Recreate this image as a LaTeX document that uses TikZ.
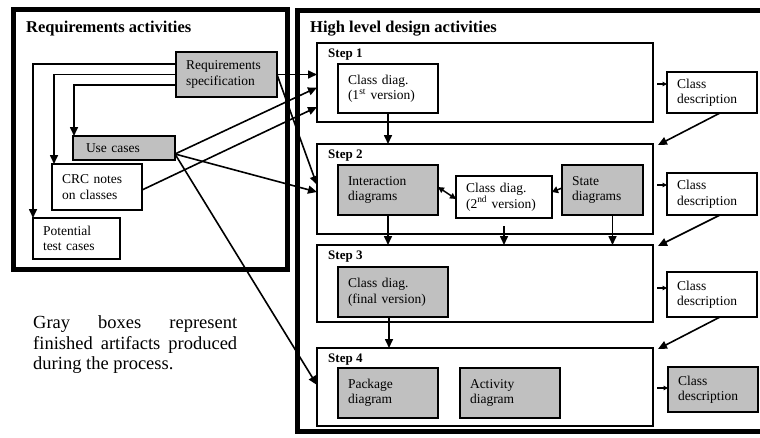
\documentclass[tikz,border=0pt]{standalone}
\usepackage{fontspec}
\setmainfont{Liberation Serif}
\usetikzlibrary{arrows.meta}
\definecolor{boxgray}{HTML}{C0C0C0}
\newcommand{\nohyph}{\hyphenpenalty=10000\relax\exhyphenpenalty=10000\relax}
\begin{document}
\begin{tikzpicture}[x=1pt,y=-1pt,
  bx/.style={draw, line width=1.5pt, rectangle, anchor=north west, inner xsep=10pt, inner ysep=0pt, outer sep=0pt, align=left, font=\fontsize{13.5}{15.5}\selectfont},
  gbx/.style={bx, fill=boxgray},
  stepbox/.style={draw, line width=1.6pt, rectangle, anchor=north west, outer sep=0pt, inner sep=0pt},
  steplbl/.style={anchor=base west, inner sep=0pt, font=\fontsize{13}{15}\selectfont\bfseries},
  ttl/.style={anchor=base west, inner sep=0pt, font=\fontsize{16.5}{18}\selectfont\bfseries},
  arr/.style={line width=1.6pt, -{Triangle[length=9pt,width=8pt]}},
  sarr/.style={line width=1.4pt, -{Triangle[length=4.5pt,width=4.5pt]}},
  frm/.style={draw, line width=5pt, rectangle, anchor=north west, outer sep=0pt, inner sep=0pt}
]
\useasboundingbox (0,0) rectangle (760,437);
\clip (0,0) rectangle (760,437);

% frames
\node[frm, minimum width=274pt, minimum height=260pt] (reqfrm) at (13,9.5) {};
\node[frm, minimum width=480pt, minimum height=421pt] (desfrm) at (297,10) {};
\node[ttl] (t1) at (26,32) {Requirements activities};
\node[ttl] (t2) at (310,32) {High level design activities};

% requirements boxes
\node[gbx, text width=81pt, minimum height=45pt] (reqspec) at (176,52) {Requirements\\specification};
\node[gbx, inner xsep=13pt, text width=76pt, minimum height=24pt] (usecases) at (73,136) {Use cases};
\node[bx, text width=70pt, minimum height=46pt] (crc) at (52,164) {CRC notes\\on classes};
\node[bx, text width=67pt, minimum height=41pt] (ptc) at (33,218) {Potential\\test cases};

% step boxes
\node[stepbox, minimum width=336pt, minimum height=79pt] (step1) at (317,43) {};
\node[stepbox, minimum width=336pt, minimum height=90pt] (step2) at (317,144) {};
\node[stepbox, minimum width=336pt, minimum height=77pt] (step3) at (317,245) {};
\node[stepbox, minimum width=336pt, minimum height=78pt] (step4) at (317,348) {};
\node[steplbl] (s1l) at (328,57) {Step 1};
\node[steplbl] (s2l) at (328,158) {Step 2};
\node[steplbl] (s3l) at (328,259) {Step 3};
\node[steplbl] (s4l) at (328,362) {Step 4};

% inner boxes
\node[bx, text width=80pt, minimum height=49pt] (cd1) at (338,64) {Class diag.\\(1\textsuperscript{st} version)};
\node[gbx, text width=80pt, minimum height=50pt] (inter) at (338,165) {Interaction\\diagrams};
\node[bx, text width=76pt, minimum height=42pt] (cd2) at (456,176) {Class diag.\\(2\textsuperscript{nd} version)};
\node[gbx, text width=61pt, minimum height=50pt] (state) at (562,165) {State\\diagrams};
\node[gbx, text width=90pt, minimum height=50pt] (cdf) at (338,267) {Class diag.\\(final version)};
\node[gbx, text width=80pt, minimum height=50pt] (pkg) at (338,368) {Package\\diagram};
\node[gbx, text width=80pt, minimum height=50pt] (act) at (460,368) {Activity\\diagram};

% class descriptions
\node[bx, text width=70pt, minimum height=41pt] (cdesc1) at (667,72) {Class\\description};
\node[bx, text width=70pt, minimum height=42pt] (cdesc2) at (667,173) {Class\\description};
\node[bx, text width=70pt, minimum height=45pt] (cdesc3) at (667,272) {Class\\description};
\node[gbx, text width=70pt, minimum height=45pt] (cdesc4) at (668,367) {Class\\description};

% note
\node[anchor=north west, inner sep=0pt, text width=204pt, align=justify, font=\fontsize{18.5}{20.5}\selectfont\nohyph] (note) at (33,315.5) {Gray boxes represent \mbox{finished} artifacts produced during the process.\par};

% requirements internal arrows
\draw[arr] ([yshift=10.5pt]reqspec.west) -| (ptc.north west);
\draw[arr] (reqspec.west) -| ([xshift=2pt]crc.north west);
\draw[arr] ([yshift=-10.5pt]reqspec.west) -| ([xshift=1pt]usecases.north west);

% requirements to design
\coordinate (uc) at ([yshift=6pt]usecases.south east);
\draw[arr] (reqspec.east) -- (reqspec.east -| step1.west);
\draw[arr] (reqspec.east) -- ([yshift=4pt]step2.west);
\draw[arr] (uc) -- ([yshift=-5pt]step1.west);
\draw[arr] ([yshift=-3pt]crc.east) -- ([yshift=-24.5pt]step1.west);
\draw[arr] (uc) -- ([yshift=-3pt]step2.west);
\draw[arr] (uc) -- ([yshift=2pt]step4.west);

% step flow
\draw[arr] (cd1.south) -- (cd1.south |- step2.north);
\draw[arr] (inter.south) -- (inter.south |- step3.north);
\draw[arr] ([yshift=-8pt]cd2.south) -- (cd2.south |- step3.north);
\draw[arr] ([xshift=10pt]state.south) -- ([xshift=10pt]state.south |- step3.north);
\draw[arr] ([xshift=-4pt]cdf.south) -- ([xshift=-4pt]cdf.south |- step4.north);

% step 2 internal
\draw[line width=1.5pt, {Triangle[length=6pt,width=6pt]}-{Triangle[length=6pt,width=6pt]}] ([yshift=3pt]inter.east) -- ([yshift=-2pt]cd2.west);
\draw[line width=1.5pt, -{Triangle[length=6pt,width=7pt]}] ([yshift=2pt]state.west) -- ([yshift=5pt]cd2.east);

% steps to class descriptions
\draw[sarr] ([xshift=4pt,yshift=-1.5pt]step1.east) -- ([yshift=-1.5pt]step1.east -| cdesc1.west);
\draw[sarr] ([xshift=4pt,yshift=4pt]step2.east) -- ([yshift=4pt]step2.east -| cdesc2.west);
\draw[sarr] ([xshift=4pt,yshift=-4.5pt]step3.east) -- ([yshift=-4.5pt]step3.east -| cdesc3.west);
\draw[sarr] ([xshift=4pt,yshift=-1pt]step4.east) -- ([yshift=-1pt]step4.east -| cdesc4.west);

% class descriptions to next steps
\draw[arr] ([xshift=8pt]cdesc1.south) -- ([xshift=5pt,yshift=-1pt]step2.north east);
\draw[arr] ([xshift=8pt]cdesc2.south) -- ([xshift=5pt,yshift=-1pt]step3.north east);
\draw[arr] ([xshift=8pt]cdesc3.south) -- ([xshift=5pt,yshift=-1pt]step4.north east);
\end{tikzpicture}
\end{document}
